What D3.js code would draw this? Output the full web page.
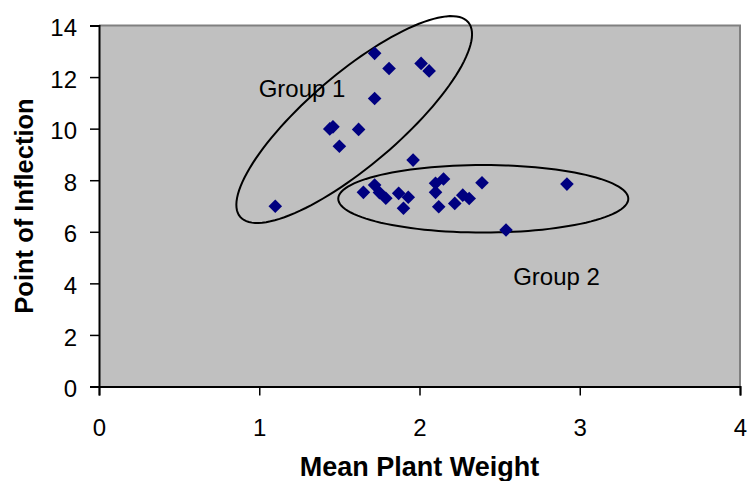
<!DOCTYPE html>
<html>
<head>
<meta charset="utf-8">
<script src="https://cdn.jsdelivr.net/npm/d3@7/dist/d3.min.js"></script>
<style>
  html, body { margin: 0; padding: 0; background: #ffffff; }
  svg { display: block; font-family: Arial, "Liberation Sans", sans-serif; }
</style>
</head>
<body>
<svg id="chart" width="750" height="481"></svg>
<script>
// Mean plant weight (x) and point of inflection (y) for each plot
const weights = [
  1.72, 1.81, 2.01, 2.06, 1.72, 1.44, 1.46, 1.62, 1.50, 1.10,
  1.96,
  1.65, 1.72, 1.75, 1.79, 1.87, 1.93, 1.90, 2.10, 2.15, 2.10,
  2.12, 2.22, 2.27, 2.31, 2.39, 2.54, 2.92
];
const inflections = [
  12.92, 12.33, 12.53, 12.24, 11.17, 9.99, 10.07, 9.97, 9.32, 6.99,
  8.78,
  7.53, 7.81, 7.52, 7.30, 7.49, 7.34, 6.91, 7.88, 8.05, 7.53,
  6.97, 7.10, 7.42, 7.29, 7.90, 6.07, 7.85
];

const xTicks = [0, 1, 2, 3, 4];
const yTicks = [0, 2, 4, 6, 8, 10, 12, 14];

// Group outlines: centre and two semi-axis vectors, in data units
const groupNames = ["Group 1", "Group 2"];
const groupCentres = [[1.5925, 10.353], [2.398, 7.28]];
const groupAxisA = [[0.7114, 3.775], [0.905, 0]];
const groupAxisB = [[0.1863, -1.357], [0, 1.31]];
const groupLabelPos = [[1.267, 11.23], [2.855, 3.95]];

const svg = d3.select("#chart");
const margin = { left: 99, right: 10, top: 25.5, bottom: 94.5 };
const W = 750, H = 481;
const x = d3.scaleLinear().domain([0, 4]).range([margin.left, W - margin.right]);
const y = d3.scaleLinear().domain([0, 14]).range([H - margin.bottom, margin.top]);

// Plot area
svg.append("rect")
  .attr("x", x(0)).attr("y", y(14))
  .attr("width", x(4) - x(0)).attr("height", y(0) - y(14))
  .attr("fill", "#c0c0c0");
svg.append("path")
  .attr("d", `M${x(0)},${y(14)}H${x(4)}V${y(0)}`)
  .attr("fill", "none").attr("stroke", "#808080").attr("stroke-width", 2);

// Axes
const xAxis = svg.append("g")
  .attr("transform", `translate(0,${y(0)})`)
  .call(d3.axisBottom(x).tickValues(xTicks).tickSize(9).tickPadding(23).tickFormat(d3.format("d")));
const yAxis = svg.append("g")
  .attr("transform", `translate(${x(0)},0)`)
  .call(d3.axisLeft(y).tickValues(yTicks).tickSize(9).tickPadding(13).tickFormat(d3.format("d")));
[xAxis, yAxis].forEach(g => {
  g.select(".domain").attr("stroke", "#000").attr("stroke-width", 2);
  g.selectAll(".tick line").attr("stroke", "#000").attr("stroke-width", 1.5);
  g.selectAll(".tick text").attr("fill", "#000")
    .style("font-size", "24px").style("font-family", "Arial, 'Liberation Sans', sans-serif");
});
yAxis.selectAll(".tick text").attr("dy", "0.42em");
xAxis.selectAll(".tick text").attr("dy", "0.71em");

// Axis titles
svg.append("text")
  .attr("x", (x(0) + x(4)) / 2).attr("y", 476)
  .attr("text-anchor", "middle")
  .style("font-size", "27px").style("font-weight", "bold")
  .text("Mean Plant Weight");
svg.append("text")
  .attr("transform", `translate(33,${(y(0) + y(14)) / 2}) rotate(-90)`)
  .attr("text-anchor", "middle")
  .style("font-size", "25.5px").style("font-weight", "bold")
  .text("Point of Inflection");

// Group outlines traced parametrically through the scales
const ellipsePath = (c, a, b) => {
  const pts = d3.range(0, 121).map(i => {
    const t = (i / 120) * 2 * Math.PI;
    return [x(c[0] + a[0] * Math.cos(t) + b[0] * Math.sin(t)),
            y(c[1] + a[1] * Math.cos(t) + b[1] * Math.sin(t))];
  });
  return d3.line().curve(d3.curveLinearClosed)(pts);
};
groupNames.forEach((name, i) => {
  svg.append("path")
    .attr("d", ellipsePath(groupCentres[i], groupAxisA[i], groupAxisB[i]))
    .attr("fill", "none").attr("stroke", "#000").attr("stroke-width", 2);
});

// Data markers (diamonds)
const r = 6.8;
svg.append("g").selectAll("path")
  .data(weights.map((w, i) => [w, inflections[i]]))
  .join("path")
  .attr("d", d => `M${x(d[0])},${y(d[1]) - r}L${x(d[0]) + r},${y(d[1])}L${x(d[0])},${y(d[1]) + r}L${x(d[0]) - r},${y(d[1])}Z`)
  .attr("fill", "#000080");

// Group labels
groupNames.forEach((name, i) => {
  svg.append("text")
    .attr("x", x(groupLabelPos[i][0])).attr("y", y(groupLabelPos[i][1]))
    .attr("text-anchor", "middle")
    .style("font-size", "24px")
    .attr("fill", "#000")
    .text(name);
});
</script>
</body>
</html>
